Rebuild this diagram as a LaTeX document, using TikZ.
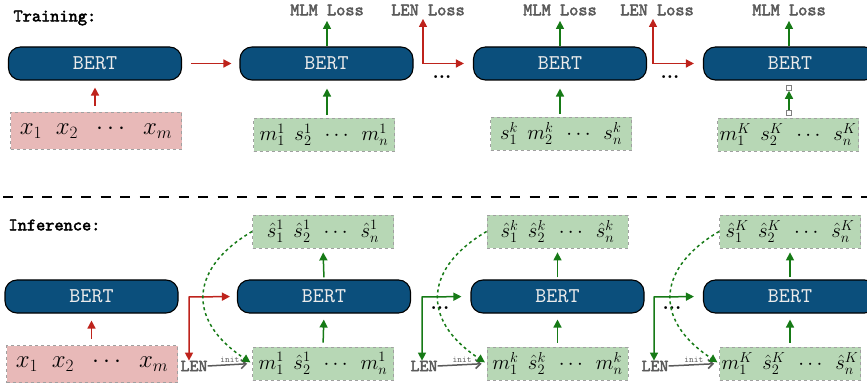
\documentclass[tikz,border=0pt]{standalone}
\usepackage{amsmath}
\usepackage{fontspec}
\setmonofont{lmmono10-regular.otf}[BoldFont=lmmono10-regular.otf, BoldFeatures={FakeBold=2.5}]
\usetikzlibrary{arrows.meta,positioning}

\definecolor{bertblue}{RGB}{11,79,124}
\definecolor{bertfont}{RGB}{235,235,235}
\definecolor{arrred}{RGB}{190,35,28}
\definecolor{arrgreen}{RGB}{22,122,22}
\definecolor{boxgreen}{RGB}{183,215,181}
\definecolor{boxred}{RGB}{232,185,184}
\definecolor{boxline}{RGB}{160,160,160}
\definecolor{labgray}{RGB}{90,90,90}

\newcommand{\gap}{\hspace{0.6em}}
\newcommand{\sgap}{\hspace{0.45em}}

\begin{document}
\begin{tikzpicture}[x=1pt, y=-1pt,
  bert/.style={draw=black, line width=1.1pt, fill=bertblue, rounded corners=12pt, minimum width=173pt, minimum height=33pt, text=bertfont, font=\fontsize{21}{21}\selectfont\ttfamily},
  seqred/.style={draw=boxline, dashed, line width=0.8pt, fill=boxred, minimum width=171pt, minimum height=37pt, inner sep=0pt, font=\fontsize{23}{26}\selectfont},
  seqgreen/.style={draw=boxline, dashed, line width=0.8pt, fill=boxgreen, minimum width=141pt, minimum height=33pt, inner sep=0pt, font=\fontsize{21}{24}\selectfont},
  title/.style={anchor=west, font=\fontsize{17.5}{18}\selectfont\ttfamily\bfseries},
  loss/.style={text=labgray, font=\fontsize{17.5}{18}\selectfont\ttfamily\bfseries},
  lenlab/.style={text=labgray, inner sep=0pt, font=\fontsize{17}{17}\selectfont\ttfamily\bfseries},
  initlab/.style={text=labgray, inner sep=1pt, font=\fontsize{9}{9}\selectfont\ttfamily},
  dots/.style={anchor=base, inner sep=0pt, font=\fontsize{20}{20}\selectfont\bfseries},
  handle/.style={draw=gray, fill=white, line width=0.6pt, minimum size=5pt, inner sep=0pt},
  redarr/.style={draw=arrred, line width=1.5pt, -{Triangle[length=8pt,width=8pt]}},
  greenarr/.style={draw=arrgreen, line width=1.5pt, -{Triangle[length=8pt,width=8pt]}},
  grayarr/.style={draw=labgray, line width=1.5pt, -{Straight Barb[length=5pt,width=9pt]}},
  greendash/.style={draw=arrgreen, line width=1.5pt, dash pattern=on 3pt off 3pt, -{Triangle[length=8pt,width=8pt]}}]
  \useasboundingbox (0,0) rectangle (867,387);

  \node[title] (train) at (10,18) {Training:};
  \node[bert] (tb0) at (95,63.5) {BERT};
  \node[seqred] (tx) at (96,131) {$x_1\gap x_2\gap\cdots\gap x_m$};
  \node[bert] (tb1) at (326.5,63.5) {BERT};
  \node[seqgreen] (ts1) at (324,135) {$m_1^1\sgap s_2^1\sgap\cdots\sgap m_n^1$};
  \node[bert] (tb2) at (560,63.5) {BERT};
  \node[seqgreen] (ts2) at (561,133.5) {$s_1^k\sgap m_2^k\sgap\cdots\sgap s_n^k$};
  \node[bert] (tb3) at (790,63.5) {BERT};
  \node[seqgreen] (ts3) at (788,134.5) {$m_1^K\sgap s_2^K\sgap\cdots\sgap s_n^K$};
  \node[loss] (mlm1) at (327,10) {MLM Loss};
  \node[loss] (tlen1) at (428,10) {LEN Loss};
  \node[loss] (mlm2) at (560,10) {MLM Loss};
  \node[loss] (tlen2) at (657,10) {LEN Loss};
  \node[loss] (mlm3) at (789,10) {MLM Loss};
  \node[dots] (tdots1) at (442,79) {...};
  \node[dots] (tdots2) at (670,79) {...};
  \node[handle] (h1) at (789,88) {};
  \node[handle] (h2) at (789,113) {};
  \coordinate (tc1) at (423,63.5);
  \coordinate (tc2) at (653,63.5);

  \draw[redarr, shorten <=6pt, shorten >=7pt] (tx.north -| tb0) -- (tb0.south);
  \draw[redarr, shorten <=9pt, shorten >=8pt] (tb0.east) -- (tb1.west);
  \draw[greenarr, shorten <=3pt, shorten >=8pt] (ts1.north -| mlm1) -- (tb1.south -| mlm1);
  \draw[greenarr, shorten >=2pt] (tb1.north -| mlm1) -- (mlm1.south);
  \draw[redarr, {Triangle[length=8pt,width=8pt]}-{Triangle[length=8pt,width=8pt]}, shorten >=9pt] (tc1 |- tlen1.south) -- (tc1) -- (tb2.west);
  \draw[greenarr, shorten <=3pt, shorten >=8pt] (ts2.north -| mlm2) -- (tb2.south -| mlm2);
  \draw[greenarr, shorten >=2pt] (tb2.north -| mlm2) -- (mlm2.south);
  \draw[redarr, {Triangle[length=8pt,width=8pt]}-{Triangle[length=8pt,width=8pt]}, shorten >=9pt] (tc2 |- tlen2.south) -- (tc2) -- (tb3.west);
  \draw[greenarr] (h2) -- (h1);
  \draw[greenarr, shorten >=2pt] (tb3.north -| mlm3) -- (mlm3.south);

  \coordinate (sepl) at (3,197);
  \coordinate (sepr) at (867,197);
  \draw[line width=2pt, dash pattern=on 10pt off 9.5pt] (sepl) -- (sepr);

  \node[title] (infer) at (5,225) {Inference:};
  \node[bert] (ib0) at (91.5,296.5) {BERT};
  \node[seqred] (ix) at (92,364) {$x_1\gap x_2\gap\cdots\gap x_m$};
  \node[bert] (ib1) at (324,296.5) {BERT};
  \node[seqgreen] (io1) at (323,231.5) {$\hat{s}_1^1\sgap \hat{s}_2^1\sgap\cdots\sgap \hat{s}_n^1$};
  \node[seqgreen] (ii1) at (323,363.5) {$m_1^1\sgap \hat{s}_2^1\sgap\cdots\sgap m_n^1$};
  \node[bert] (ib2) at (557.5,296.5) {BERT};
  \node[seqgreen] (io2) at (557.5,231.5) {$\hat{s}_1^k\sgap \hat{s}_2^k\sgap\cdots\sgap \hat{s}_n^k$};
  \node[seqgreen] (ii2) at (557.5,363.5) {$m_1^k\sgap \hat{s}_2^k\sgap\cdots\sgap m_n^k$};
  \node[bert] (ib3) at (790,296.5) {BERT};
  \node[seqgreen] (io3) at (790,231.5) {$\hat{s}_1^K\sgap \hat{s}_2^K\sgap\cdots\sgap \hat{s}_n^K$};
  \node[seqgreen] (ii3) at (790,363.5) {$m_1^K\sgap \hat{s}_2^K\sgap\cdots\sgap \hat{s}_n^K$};
  \node[lenlab] (ilen1) at (194,366) {LEN};
  \node[lenlab] (ilen2) at (424,366) {LEN};
  \node[lenlab] (ilen3) at (655,366) {LEN};
  \node[dots] (idots1) at (440,309) {...};
  \node[dots] (idots2) at (672,309) {...};
  \coordinate (ic1) at (189,297);
  \coordinate (ic2) at (422,297);
  \coordinate (ic3) at (654,297);

  \draw[redarr, shorten <=6pt, shorten >=7pt] (ix.north -| ib0) -- (ib0.south);
  \draw[redarr, {Triangle[length=8pt,width=8pt]}-{Triangle[length=8pt,width=8pt]}, shorten >=7pt] (ic1 |- ilen1.north) -- (ic1) -- (ib1.west);
  \draw[greenarr, {Triangle[length=8pt,width=8pt]}-{Triangle[length=8pt,width=8pt]}, shorten >=9pt] (ic2 |- ilen2.north) -- (ic2) -- (ib2.west);
  \draw[greenarr, {Triangle[length=8pt,width=8pt]}-{Triangle[length=8pt,width=8pt]}, shorten >=9pt] (ic3 |- ilen3.north) -- (ic3) -- (ib3.west);
  \foreach \i in {1,2,3} {
    \draw[greenarr, shorten <=4pt, shorten >=6pt] (ii\i.north) -- (ib\i.south);
    \draw[greenarr, shorten <=2pt, shorten >=4pt] (ib\i.north) -- (io\i.south);
    \draw[grayarr, shorten >=5pt] (ilen\i.east) -- node[initlab, above] {init} (ii\i.west);
    \draw[greendash, shorten >=2pt] (io\i.west) .. controls +(-60,35) and +(-68,-45) .. (ii\i.west);
  }
\end{tikzpicture}
\end{document}
